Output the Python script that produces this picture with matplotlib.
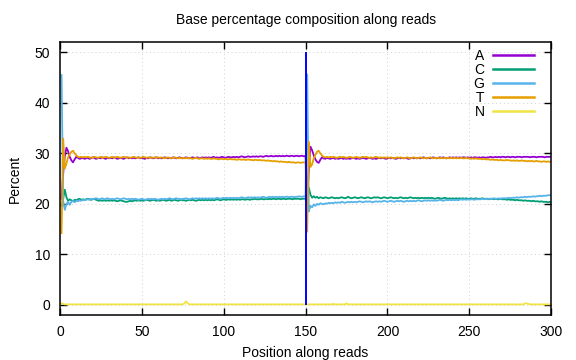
import numpy as np
import matplotlib
matplotlib.use("Agg")
import matplotlib.pyplot as plt

plt.rcParams['font.family'] = ['Liberation Sans', 'DejaVu Sans']

# base percentages, read 1 = positions 1-150, read 2 = positions 151-300
A1 = [21.0, 26.0, 29.5, 31.1, 30.4, 29.3, 28.6, 28.2, 28.8, 29.3, 29.1, 28.9, 29.0, 29.1, 28.9,
      29.0, 29.1, 28.9, 29.0, 29.2, 29.1, 28.9, 29.0, 29.1, 29.0, 29.2, 29.0, 28.9, 29.1, 29.0,
      29.1, 29.0, 29.2, 29.1, 28.9, 29.0, 29.1, 29.0, 28.9, 29.1, 29.2, 29.0, 29.1, 29.0, 29.1,
      29.0, 29.1, 29.2, 29.0, 29.1, 29.0, 28.9, 29.1, 29.0, 29.2, 29.1, 29.0, 29.1, 29.2, 29.0,
      29.1, 29.0, 29.1, 29.2, 29.1, 29.0, 29.1, 29.0, 29.2, 29.1, 29.0, 29.1, 29.2, 29.1, 29.0,
      29.1, 29.2, 29.1, 29.0, 29.1, 29.2, 29.1, 29.1, 29.2, 29.0, 29.1, 29.2, 29.1, 29.2, 29.1,
      29.2, 29.1, 29.2, 29.3, 29.1, 29.2, 29.1, 29.2, 29.3, 29.2, 29.1, 29.2, 29.3, 29.2, 29.2,
      29.3, 29.2, 29.3, 29.2, 29.3, 29.4, 29.3, 29.2, 29.3, 29.4, 29.3, 29.3, 29.4, 29.3, 29.4,
      29.3, 29.4, 29.4, 29.3, 29.4, 29.5, 29.4, 29.4, 29.5, 29.4, 29.4, 29.5, 29.4, 29.5, 29.4,
      29.5, 29.4, 29.5, 29.5, 29.4, 29.5, 29.5, 29.4, 29.5, 29.5, 29.4, 29.5, 29.5, 29.4, 29.5]
A2 = [20.5, 27.0, 31.3, 30.6, 29.6, 28.8, 28.3, 28.1, 28.7, 29.2, 29.0, 28.9, 29.1, 29.0, 28.9,
      29.0, 29.1, 28.9, 29.0, 28.9, 29.0, 29.1, 28.9, 29.0, 28.9, 29.0, 28.9, 29.0, 29.1, 29.0,
      28.9, 29.0, 28.9, 29.0, 29.1, 29.0, 28.9, 29.0, 29.1, 29.0, 28.9, 29.0, 28.9, 29.0, 29.1,
      29.0, 29.1, 29.0, 28.9, 29.0, 29.1, 29.0, 29.1, 29.0, 28.9, 29.0, 29.1, 29.0, 29.1, 29.0,
      29.1, 29.0, 28.9, 29.0, 29.1, 29.0, 29.1, 29.0, 29.1, 29.0, 29.1, 29.2, 29.1, 29.0, 29.1,
      29.0, 29.1, 29.2, 29.1, 29.0, 29.1, 29.2, 29.1, 29.2, 29.1, 29.0, 29.1, 29.2, 29.1, 29.2,
      29.1, 29.2, 29.1, 29.2, 29.1, 29.2, 29.2, 29.1, 29.2, 29.1, 29.2, 29.1, 29.2, 29.2, 29.1,
      29.2, 29.1, 29.2, 29.2, 29.1, 29.2, 29.2, 29.3, 29.2, 29.2, 29.3, 29.2, 29.3, 29.2, 29.3,
      29.3, 29.2, 29.3, 29.3, 29.2, 29.3, 29.3, 29.2, 29.3, 29.3, 29.3, 29.2, 29.3, 29.3, 29.3,
      29.3, 29.2, 29.3, 29.3, 29.3, 29.2, 29.3, 29.3, 29.3, 29.3, 29.2, 29.3, 29.3, 29.3, 29.3]

C1 = [19.5, 21.0, 22.8, 21.3, 20.6, 20.9, 20.7, 20.5, 20.8, 20.7, 20.9, 21.0, 20.8, 20.9, 20.8,
      20.9, 21.0, 20.9, 20.8, 20.9, 21.0, 20.8, 20.7, 20.6, 20.7, 20.6, 20.7, 20.6, 20.7, 20.6,
      20.7, 20.6, 20.7, 20.6, 20.5, 20.6, 20.7, 20.6, 20.5, 20.4, 20.4, 20.5, 20.6, 20.5, 20.6,
      20.7, 20.6, 20.7, 20.6, 20.7, 20.6, 20.7, 20.8, 20.7, 20.6, 20.7, 20.8, 20.7, 20.6, 20.7,
      20.6, 20.7, 20.8, 20.7, 20.6, 20.7, 20.8, 20.6, 20.7, 20.8, 20.7, 20.6, 20.7, 20.8, 20.7,
      20.7, 20.6, 20.7, 20.8, 20.7, 20.8, 20.7, 20.6, 20.7, 20.8, 20.7, 20.8, 20.7, 20.8, 20.7,
      20.8, 20.7, 20.8, 20.7, 20.8, 20.9, 20.8, 20.7, 20.8, 20.9, 20.8, 20.8, 20.9, 20.8, 20.9,
      20.8, 20.9, 20.8, 20.9, 20.8, 20.9, 20.9, 20.8, 20.9, 20.9, 20.8, 20.9, 20.9, 21.0, 20.9,
      20.9, 20.9, 21.0, 20.9, 20.9, 21.0, 20.9, 21.0, 20.9, 21.0, 21.0, 20.9, 21.0, 21.0, 20.9,
      21.0, 21.0, 20.9, 21.0, 21.0, 21.0, 20.9, 21.0, 21.0, 21.0, 21.0, 20.9, 21.0, 21.0, 21.0]
C2 = [19.5, 23.2, 21.8, 21.2, 21.5, 21.2, 21.4, 21.1, 21.3, 21.2, 21.1, 21.3, 21.2, 21.1, 21.2,
      21.3, 21.2, 21.1, 21.2, 21.1, 21.2, 21.3, 21.2, 21.1, 21.2, 21.4, 21.2, 21.1, 21.2, 21.3,
      21.2, 21.1, 21.2, 21.3, 21.2, 21.1, 21.2, 21.3, 21.2, 21.1, 21.2, 21.3, 21.2, 21.3, 21.2,
      21.1, 21.2, 21.3, 21.2, 21.1, 21.2, 21.3, 21.2, 21.1, 21.2, 21.1, 21.2, 21.3, 21.2, 21.1,
      21.2, 21.1, 21.2, 21.3, 21.2, 21.1, 21.2, 21.1, 21.2, 21.1, 21.2, 21.1, 21.2, 21.1, 21.2,
      21.1, 21.2, 21.1, 21.0, 21.1, 21.2, 21.1, 21.0, 21.1, 21.2, 21.1, 21.0, 21.1, 21.0, 21.1,
      21.0, 21.1, 21.0, 21.1, 21.0, 21.1, 21.0, 21.1, 21.0, 21.0, 21.1, 21.0, 21.0, 21.1, 21.0,
      21.0, 21.0, 21.1, 21.0, 21.0, 21.0, 20.9, 21.0, 21.0, 20.9, 21.0, 20.9, 20.9, 21.0, 20.9,
      20.9, 20.9, 20.8, 20.9, 20.8, 20.8, 20.8, 20.7, 20.8, 20.7, 20.7, 20.7, 20.6, 20.7, 20.6,
      20.6, 20.6, 20.5, 20.6, 20.5, 20.5, 20.5, 20.4, 20.5, 20.4, 20.4, 20.4, 20.3, 20.4, 20.3]

G1 = [45.5, 20.5, 18.8, 20.0, 20.4, 19.8, 20.4, 20.6, 20.3, 20.6, 20.5, 20.7, 20.6, 20.8, 20.7,
      20.8, 20.9, 20.8, 21.0, 20.9, 21.0, 21.1, 21.0, 20.9, 21.0, 21.1, 20.9, 21.0, 21.1, 21.0,
      20.9, 21.0, 20.9, 21.0, 21.1, 21.0, 20.9, 21.0, 21.1, 21.0, 20.9, 21.0, 20.9, 21.0, 20.9,
      21.0, 20.9, 20.8, 20.9, 21.0, 20.9, 20.8, 20.9, 21.0, 20.9, 21.0, 20.9, 21.0, 20.9, 20.8,
      20.9, 21.0, 20.9, 21.0, 20.9, 21.0, 21.1, 21.0, 20.9, 21.0, 21.1, 21.0, 21.0, 20.9, 21.0,
      21.0, 21.1, 21.0, 20.9, 21.0, 21.1, 21.0, 21.1, 21.0, 21.1, 21.0, 21.1, 21.0, 21.1, 21.0,
      21.1, 21.0, 21.1, 21.0, 21.1, 21.2, 21.1, 21.0, 21.1, 21.2, 21.1, 21.2, 21.1, 21.2, 21.1,
      21.2, 21.1, 21.2, 21.1, 21.2, 21.3, 21.2, 21.1, 21.2, 21.3, 21.2, 21.3, 21.2, 21.3, 21.2,
      21.3, 21.2, 21.3, 21.4, 21.3, 21.2, 21.3, 21.4, 21.3, 21.4, 21.3, 21.4, 21.3, 21.4, 21.3,
      21.4, 21.3, 21.4, 21.4, 21.3, 21.4, 21.4, 21.3, 21.4, 21.4, 21.5, 21.4, 21.4, 21.5, 21.4]
G2 = [45.6, 18.5, 19.6, 19.3, 19.9, 19.6, 20.0, 19.8, 20.1, 20.0, 19.9, 20.1, 20.0, 20.2, 20.1,
      20.2, 20.1, 20.3, 20.2, 20.3, 20.2, 20.4, 20.3, 20.2, 20.3, 20.4, 20.3, 20.4, 20.3, 20.4,
      20.3, 20.4, 20.5, 20.4, 20.3, 20.4, 20.5, 20.4, 20.5, 20.4, 20.3, 20.4, 20.5, 20.4, 20.5,
      20.4, 20.5, 20.6, 20.5, 20.4, 20.5, 20.6, 20.5, 20.4, 20.5, 20.6, 20.5, 20.6, 20.5, 20.4,
      20.5, 20.6, 20.5, 20.6, 20.5, 20.6, 20.5, 20.6, 20.7, 20.6, 20.5, 20.6, 20.7, 20.6, 20.7,
      20.6, 20.7, 20.6, 20.7, 20.6, 20.7, 20.8, 20.7, 20.6, 20.7, 20.8, 20.7, 20.8, 20.7, 20.8,
      20.7, 20.8, 20.7, 20.8, 20.9, 20.8, 20.9, 20.8, 20.9, 20.8, 20.9, 20.9, 20.8, 20.9, 20.9,
      20.9, 20.9, 21.0, 20.9, 21.0, 20.9, 21.0, 21.0, 21.0, 21.1, 21.0, 21.0, 21.1, 21.0, 21.1,
      21.1, 21.1, 21.1, 21.2, 21.1, 21.2, 21.2, 21.2, 21.3, 21.2, 21.3, 21.3, 21.3, 21.4, 21.3,
      21.4, 21.4, 21.4, 21.5, 21.4, 21.5, 21.5, 21.6, 21.5, 21.6, 21.6, 21.6, 21.7, 21.7, 21.7]

T1 = [14.2, 32.9, 27.0, 28.0, 29.2, 29.8, 30.3, 30.5, 30.0, 29.6, 29.3, 29.2, 29.3, 29.2, 29.3,
      29.2, 29.3, 29.2, 29.1, 29.2, 29.3, 29.2, 29.1, 29.2, 29.3, 29.1, 29.2, 29.3, 29.2, 29.1,
      29.2, 29.3, 29.1, 29.2, 29.3, 29.2, 29.1, 29.2, 29.3, 29.2, 29.1, 29.2, 29.1, 29.2, 29.3,
      29.2, 29.1, 29.2, 29.1, 29.2, 29.3, 29.2, 29.1, 29.2, 29.1, 29.2, 29.1, 29.2, 29.1, 29.2,
      29.1, 29.2, 29.1, 29.0, 29.1, 29.2, 29.1, 29.0, 29.1, 29.2, 29.1, 29.0, 29.1, 29.0, 29.1,
      29.0, 29.1, 29.0, 29.1, 29.0, 28.9, 29.0, 29.1, 29.0, 28.9, 29.0, 29.0, 28.9, 29.0, 28.9,
      29.0, 28.9, 28.9, 29.0, 28.9, 28.9, 28.8, 28.9, 28.9, 28.8, 28.9, 28.8, 28.8, 28.9, 28.8,
      28.8, 28.8, 28.7, 28.8, 28.8, 28.7, 28.8, 28.7, 28.7, 28.8, 28.7, 28.7, 28.6, 28.7, 28.7,
      28.6, 28.7, 28.6, 28.6, 28.6, 28.5, 28.6, 28.5, 28.5, 28.4, 28.5, 28.4, 28.4, 28.3, 28.4,
      28.3, 28.3, 28.3, 28.2, 28.3, 28.2, 28.2, 28.2, 28.1, 28.2, 28.2, 28.1, 28.2, 28.2, 28.2]
T2 = [14.5, 32.3, 27.3, 27.8, 29.0, 29.7, 30.3, 30.5, 30.0, 29.6, 29.3, 29.2, 29.3, 29.2, 29.3,
      29.2, 29.3, 29.2, 29.1, 29.2, 29.3, 29.2, 29.3, 29.2, 29.1, 29.2, 29.3, 29.2, 29.1, 29.2,
      29.3, 29.2, 29.1, 29.2, 29.3, 29.2, 29.3, 29.2, 29.1, 29.2, 29.1, 29.2, 29.3, 29.2, 29.1,
      29.2, 29.1, 29.2, 29.1, 29.2, 29.1, 29.2, 29.1, 29.0, 29.1, 29.2, 29.1, 29.2, 29.1, 29.0,
      29.1, 29.2, 29.1, 29.0, 29.1, 29.2, 29.1, 29.0, 29.1, 29.2, 29.1, 29.0, 29.1, 29.0, 29.1,
      29.2, 29.1, 29.0, 29.1, 29.0, 29.1, 29.0, 29.1, 29.0, 29.1, 29.0, 29.1, 29.0, 29.1, 29.0,
      29.1, 29.0, 29.1, 29.0, 29.1, 29.0, 29.0, 29.1, 29.0, 29.0, 28.9, 29.0, 28.9, 29.0, 28.9,
      28.9, 28.9, 28.8, 28.9, 28.8, 28.8, 28.8, 28.7, 28.8, 28.7, 28.7, 28.7, 28.6, 28.7, 28.6,
      28.6, 28.6, 28.7, 28.6, 28.6, 28.5, 28.6, 28.5, 28.6, 28.5, 28.5, 28.6, 28.5, 28.5, 28.4,
      28.5, 28.4, 28.5, 28.4, 28.4, 28.5, 28.4, 28.4, 28.3, 28.4, 28.4, 28.3, 28.4, 28.3, 28.4]

N1 = [0.3, 0.2, 0.1, 0.1, 0.1, 0.1, 0.1, 0.1, 0.1, 0.1, 0.1, 0.1, 0.1, 0.1, 0.1,
      0.1, 0.1, 0.1, 0.1, 0.1, 0.1, 0.1, 0.1, 0.1, 0.1, 0.1, 0.1, 0.1, 0.1, 0.1,
      0.1, 0.1, 0.1, 0.1, 0.1, 0.1, 0.1, 0.1, 0.1, 0.1, 0.1, 0.1, 0.1, 0.1, 0.1,
      0.1, 0.1, 0.1, 0.1, 0.1, 0.1, 0.1, 0.1, 0.1, 0.1, 0.1, 0.1, 0.1, 0.1, 0.1,
      0.1, 0.1, 0.1, 0.1, 0.1, 0.1, 0.1, 0.1, 0.1, 0.1, 0.1, 0.1, 0.1, 0.1, 0.1,
      0.3, 0.7, 0.3, 0.1, 0.1, 0.1, 0.1, 0.1, 0.1, 0.1, 0.1, 0.1, 0.1, 0.1, 0.1,
      0.1, 0.1, 0.1, 0.1, 0.1, 0.1, 0.1, 0.1, 0.1, 0.1, 0.1, 0.1, 0.1, 0.1, 0.1,
      0.1, 0.1, 0.1, 0.1, 0.1, 0.1, 0.1, 0.1, 0.1, 0.1, 0.1, 0.1, 0.1, 0.1, 0.1,
      0.1, 0.1, 0.1, 0.1, 0.1, 0.1, 0.1, 0.1, 0.1, 0.1, 0.1, 0.1, 0.1, 0.1, 0.1,
      0.1, 0.1, 0.1, 0.1, 0.1, 0.1, 0.1, 0.1, 0.1, 0.1, 0.1, 0.1, 0.1, 0.1, 0.1]
N2 = [0.1, 0.1, 0.1, 0.1, 0.1, 0.1, 0.1, 0.1, 0.1, 0.1, 0.1, 0.1, 0.1, 0.1, 0.1,
      0.1, 0.2, 0.1, 0.1, 0.1, 0.1, 0.1, 0.1, 0.1, 0.3, 0.1, 0.1, 0.1, 0.1, 0.1,
      0.1, 0.1, 0.1, 0.1, 0.1, 0.1, 0.1, 0.1, 0.1, 0.1, 0.1, 0.1, 0.1, 0.1, 0.1,
      0.1, 0.1, 0.1, 0.1, 0.1, 0.1, 0.1, 0.1, 0.1, 0.1, 0.1, 0.1, 0.1, 0.1, 0.1,
      0.1, 0.1, 0.1, 0.1, 0.1, 0.1, 0.1, 0.1, 0.1, 0.1, 0.1, 0.1, 0.1, 0.1, 0.1,
      0.1, 0.1, 0.1, 0.1, 0.1, 0.1, 0.1, 0.1, 0.1, 0.1, 0.1, 0.1, 0.1, 0.1, 0.1,
      0.1, 0.1, 0.1, 0.1, 0.1, 0.1, 0.1, 0.1, 0.1, 0.1, 0.1, 0.1, 0.1, 0.1, 0.1,
      0.1, 0.1, 0.1, 0.1, 0.1, 0.1, 0.1, 0.1, 0.1, 0.1, 0.1, 0.1, 0.1, 0.1, 0.1,
      0.1, 0.1, 0.1, 0.1, 0.1, 0.1, 0.1, 0.1, 0.1, 0.1, 0.1, 0.1, 0.1, 0.3, 0.3,
      0.2, 0.1, 0.1, 0.1, 0.1, 0.1, 0.1, 0.1, 0.1, 0.1, 0.1, 0.1, 0.1, 0.1, 0.1]

bases = ["A", "C", "G", "T", "N"]
colors = ["#9400d3", "#009e73", "#56b4e9", "#e69f00", "#f0e442"]
series = [A1 + A2, C1 + C2, G1 + G2, T1 + T2, N1 + N2]
pos = np.arange(1, len(A1) + len(A2) + 1)
read_break = len(A1)

fig = plt.figure(figsize=(5.76, 3.6), dpi=100)
ax = fig.add_axes([0.104, 0.125, 0.853, 0.758])

for b, c, y in zip(bases, colors, series):
    ax.plot(pos, y, color=c, lw=1.3, label=b)

ax.vlines(read_break, 0, 50, color="#0000ff", lw=1.4, zorder=5)

ax.set_xlim(0, 300)
ax.set_ylim(-2, 52)
ax.set_xticks(range(0, 301, 50))
ax.set_yticks(range(0, 51, 10))
ax.grid(True, color="#d0d0d0", ls=(0, (1, 3)), lw=0.7)
ax.tick_params(direction="in", length=5, width=1, top=True, right=True, labelsize=10, pad=7)
for s in ax.spines.values():
    s.set_linewidth(1.1)

ax.set_title("Base percentage composition along reads", fontsize=10, pad=13)
ax.set_xlabel("Position along reads", fontsize=10, labelpad=5)
ax.set_ylabel("Percent", fontsize=10, labelpad=9)

leg = ax.legend(loc="upper right", bbox_to_anchor=(0.977, 0.995), frameon=False, markerfirst=False,
                handlelength=3.0, labelspacing=0.0, fontsize=10, handletextpad=0.6, borderaxespad=0)
for line in leg.get_lines():
    line.set_linewidth(1.8)

fig.savefig("out.png", dpi=100)
